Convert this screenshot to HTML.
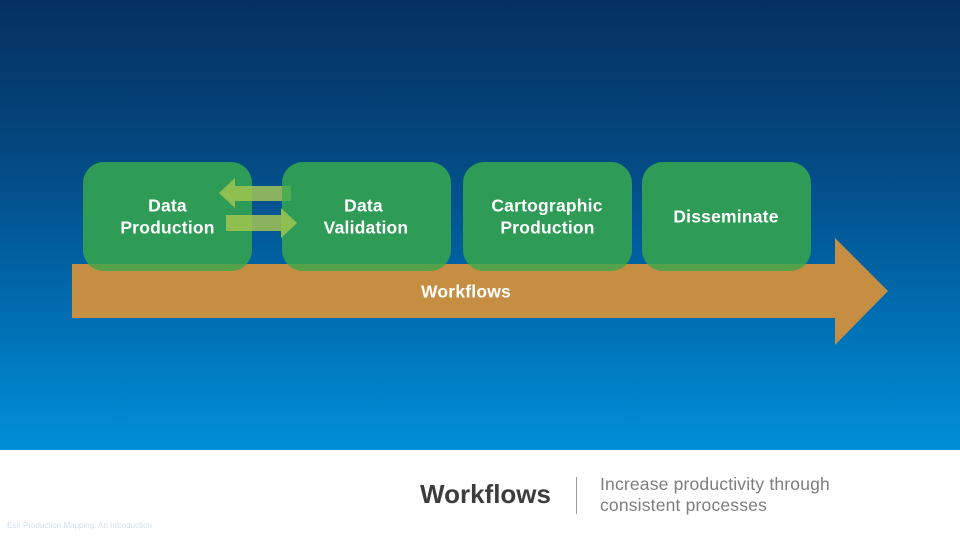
<!DOCTYPE html>
<html><head><meta charset="utf-8">
<style>
html,body{margin:0;padding:0;background:#fff}
#p{position:relative;width:960px;height:540px;overflow:hidden;font-family:"Liberation Sans",sans-serif}
svg{position:absolute;left:0;top:0}
text{font-family:"Liberation Sans",sans-serif}
</style></head><body><div id="p">
<svg width="960" height="540" viewBox="0 0 960 540" xmlns="http://www.w3.org/2000/svg">
<defs>
<linearGradient id="bg" x1="0" y1="0" x2="0" y2="1">
<stop offset="0" stop-color="#05315f"/>
<stop offset="0.33" stop-color="#04477f"/>
<stop offset="0.66" stop-color="#0069ac"/>
<stop offset="1" stop-color="#0090d8"/>
</linearGradient>
<clipPath id="boxes">
<rect x="83" y="162" width="169" height="109" rx="21"/>
<rect x="282" y="162" width="169" height="109" rx="21"/>
<rect x="463" y="162" width="169" height="109" rx="21"/>
<rect x="642" y="162" width="169" height="109" rx="21"/>
</clipPath>
</defs>
<rect x="0" y="0" width="960" height="450" fill="url(#bg)"/>
<rect x="0" y="450" width="960" height="90" fill="#fff"/>
<polygon points="72,264 835,264 835,238 888,291 835,345 835,318 72,318" fill="#c68e42"/>
<g fill="#2e9b56">
<rect x="83" y="162" width="169" height="109" rx="21"/>
<rect x="282" y="162" width="169" height="109" rx="21"/>
<rect x="463" y="162" width="169" height="109" rx="21"/>
<rect x="642" y="162" width="169" height="109" rx="21"/>
</g>
<g clip-path="url(#boxes)"><rect x="72" y="264" width="763" height="10" fill="#55a24a"/></g>
<polygon points="219,193 235,178 235,186 252,186 252,201 235,201 235,208" fill="#8fbf50"/>
<rect x="252" y="186" width="30" height="15" fill="#8bb35f"/>
<rect x="282" y="186" width="9" height="15" fill="#4cae50"/>
<rect x="226" y="215" width="26" height="16" fill="#8fbf50"/>
<rect x="252" y="215" width="30" height="16" fill="#8bb35f"/>
<polygon points="281,208 297,223 281,238" fill="#8fbf50"/>
<g fill="#fff" font-size="17.5" font-weight="700" letter-spacing="0.2" text-anchor="middle">
<text x="167.500" y="211.500">Data</text>
<text x="167.500" y="233.500">Production</text>
<text x="363.500" y="211.500">Data</text>
<text x="366" y="233.500">Validation</text>
<text x="547" y="211.500">Cartographic</text>
<text x="547.500" y="233.500">Production</text>
<text x="726" y="222.500">Disseminate</text>
<text x="466" y="297.500">Workflows</text>
</g>
<text x="420" y="503" font-size="26" font-weight="700" fill="#3c3c3c">Workflows</text>
<rect x="576" y="477" width="1" height="37" fill="#9a9a9a"/>
<g font-size="17.500" fill="#7d7d7d" letter-spacing="0.18">
<text x="600" y="490">Increase productivity through</text>
<text x="600" y="511">consistent processes</text>
</g>
<text x="7" y="528" font-size="8" fill="#cfe2f0">Esri Production Mapping: An Introduction</text>
</svg>
</div></body></html>
